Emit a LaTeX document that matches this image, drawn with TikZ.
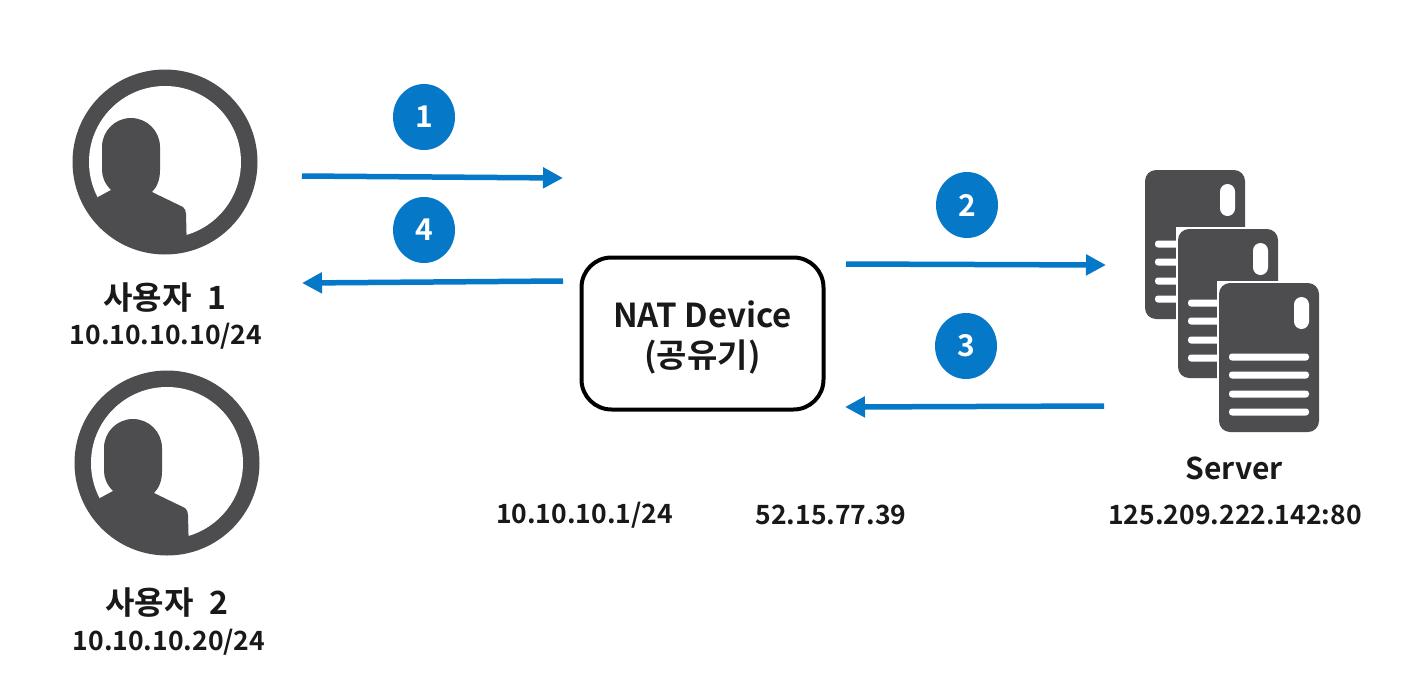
\documentclass[tikz,border=0pt]{standalone}
\usepackage{fontspec}
\setmainfont{Noto Sans CJK KR}[BoldFont={Noto Sans CJK KR Bold}]
\usetikzlibrary{arrows.meta,shapes.geometric}
\definecolor{icon}{HTML}{4D4D4F}
\definecolor{flow}{HTML}{0578C8}
\tikzset{
  x=1pt,y=-1pt,
  flowarrow/.style={draw=flow,line width=5.5pt,-{Triangle[length=20pt,width=20pt]}},
  badge/.style={ellipse,fill=flow,text=white,minimum width=62pt,minimum height=66pt,inner sep=0pt,font=\fontsize{30}{32}\selectfont\bfseries},
  natbox/.style={draw=black,line width=4pt,rounded corners=30pt,fill=white,minimum width=242pt,minimum height=152pt,inner sep=0pt},
  natlabel/.style={align=center,font=\fontsize{33}{40}\selectfont\bfseries,inner sep=0pt,text=black!90},
  lbl/.style={font=\fontsize{32}{36}\selectfont\bfseries,inner sep=0pt,text=black!90},
  srvlbl/.style={font=\fontsize{30}{36}\selectfont\bfseries,inner sep=0pt,text=black!90},
  addr/.style={font=\fontsize{26.5}{30}\selectfont\bfseries,inner sep=0pt,text=black!90},
  person/.pic={
    \fill[icon] (0,0) circle[radius=92.5pt];
    \fill[white] (0,0) circle[radius=76pt];
    \begin{scope}
      \clip (0,0) circle[radius=80pt];
      \fill[icon] (-63,-15) .. controls (-63,-31) and (-50,-44) .. (-34,-44)
        .. controls (-18,-44) and (-5,-31) .. (-5,-15)
        -- (-5,8) .. controls (-5,18) and (-8,25) .. (-13,30)
        -- (18,45) .. controls (20,47) and (21,49) .. (21,52)
        -- (22,90) -- (-90,90) -- (-67,35) -- (-54,28)
        .. controls (-60,22) and (-63,15) .. (-63,8) -- cycle;
    \end{scope}
  },
  doccard/.pic={
    \fill[icon, rounded corners=11pt] (0,0) rectangle (100,149);
    \fill[white, rounded corners=7.5pt] (75,14) rectangle (90,46);
    \foreach \ly in {74,92,111,129}
      \fill[white, rounded corners=3pt] (10,\ly-3.5) rectangle (90,\ly+3.5);
  }
}
\begin{document}
\begin{tikzpicture}
\useasboundingbox (0,0) rectangle (1422,686);
\fill[white] (0,0) rectangle (1422,686);
% users
\pic at (165,162) {person};
\pic at (167,463) {person};
\node[lbl] (u1) at (165,298) {사용자\hspace{16pt}1};
\node[addr] (u1ip) at (166,336) {10.10.10.10/24};
\node[lbl] (u2) at (167,603) {사용자\hspace{16pt}2};
\node[addr] (u2ip) at (169,642) {10.10.10.20/24};
% NAT
\node[natbox] (nat) at (702.5,333.5) {};
\node[natlabel] (natt) at (702.5,337) {NAT Device\\(공유기)};
\node[addr] (natl) at (584.5,515) {10.10.10.1/24};
\node[addr] (natr) at (831,515) {52.15.77.39};
% servers
\pic at (1145,170) {doccard};
\fill[white] (1176,227) rectangle (1248,240);
\fill[white] (1176,227) rectangle (1179,322);
\pic at (1178,229) {doccard};
\fill[white] (1217,281) rectangle (1280,294);
\fill[white] (1217,281) rectangle (1220,380);
\pic at (1219,283) {doccard};
\node[srvlbl] (srv) at (1234,468) {Server};
\node[addr] (srvip) at (1235,515) {125.209.222.142:80};
% badges
\node[badge] (b1) at (424,117) {1};
\node[badge] (b4) at (424,230) {4};
\node[badge] (b2) at (967,205) {2};
\node[badge] (b3) at (966,346) {3};
% arrows
\coordinate (a1s) at (302,176); \coordinate (a1e) at (563,178);
\coordinate (a4s) at (563,281); \coordinate (a4e) at (302,283);
\coordinate (a2s) at (846,264); \coordinate (a2e) at (1106,265);
\coordinate (a3s) at (1104,406); \coordinate (a3e) at (845,407);
\draw[flowarrow] (a1s) -- (a1e);
\draw[flowarrow] (a4s) -- (a4e);
\draw[flowarrow] (a2s) -- (a2e);
\draw[flowarrow] (a3s) -- (a3e);
\end{tikzpicture}
\end{document}
